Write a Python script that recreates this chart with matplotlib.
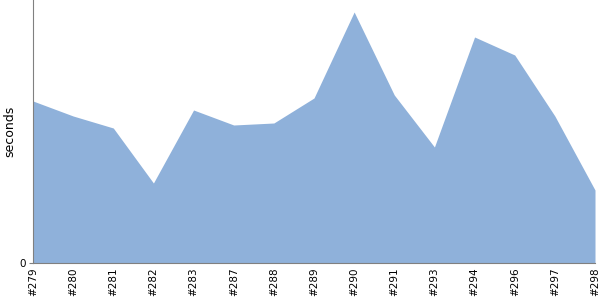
import matplotlib
matplotlib.use("Agg")
import matplotlib.pyplot as plt

labels = ["#279", "#280", "#281", "#282", "#283", "#287", "#288", "#289",
          "#290", "#291", "#293", "#294", "#296", "#297", "#298"]
seconds = [162, 147, 135, 80, 153, 138, 140, 165, 251, 168, 116, 226, 208, 147, 73]

fig = plt.figure(figsize=(6, 3), dpi=100)
ax = fig.add_axes([33/600, 37/300, 562/600, 263/300])
x = list(range(len(labels)))
ax.fill_between(x, seconds, 0, color="#8fb1da", linewidth=0)
ax.set_xlim(0, len(labels) - 1)
ax.set_ylim(0, 263)
ax.set_xticks(x)
ax.set_xticklabels(labels, rotation=90, fontsize=7.5)
ax.set_yticks([0])
ax.set_yticklabels(["0"], fontsize=7.5)
ax.set_ylabel("seconds", fontsize=9)
ax.yaxis.set_label_coords(-0.029, 0.5)
for s in ["top", "right"]:
    ax.spines[s].set_visible(False)
for s in ["left", "bottom"]:
    ax.spines[s].set_color("#808080")
ax.tick_params(axis="x", length=0, pad=3)
ax.tick_params(axis="y", length=3, color="#808080", pad=2)
fig.savefig("out.png", dpi=100)
